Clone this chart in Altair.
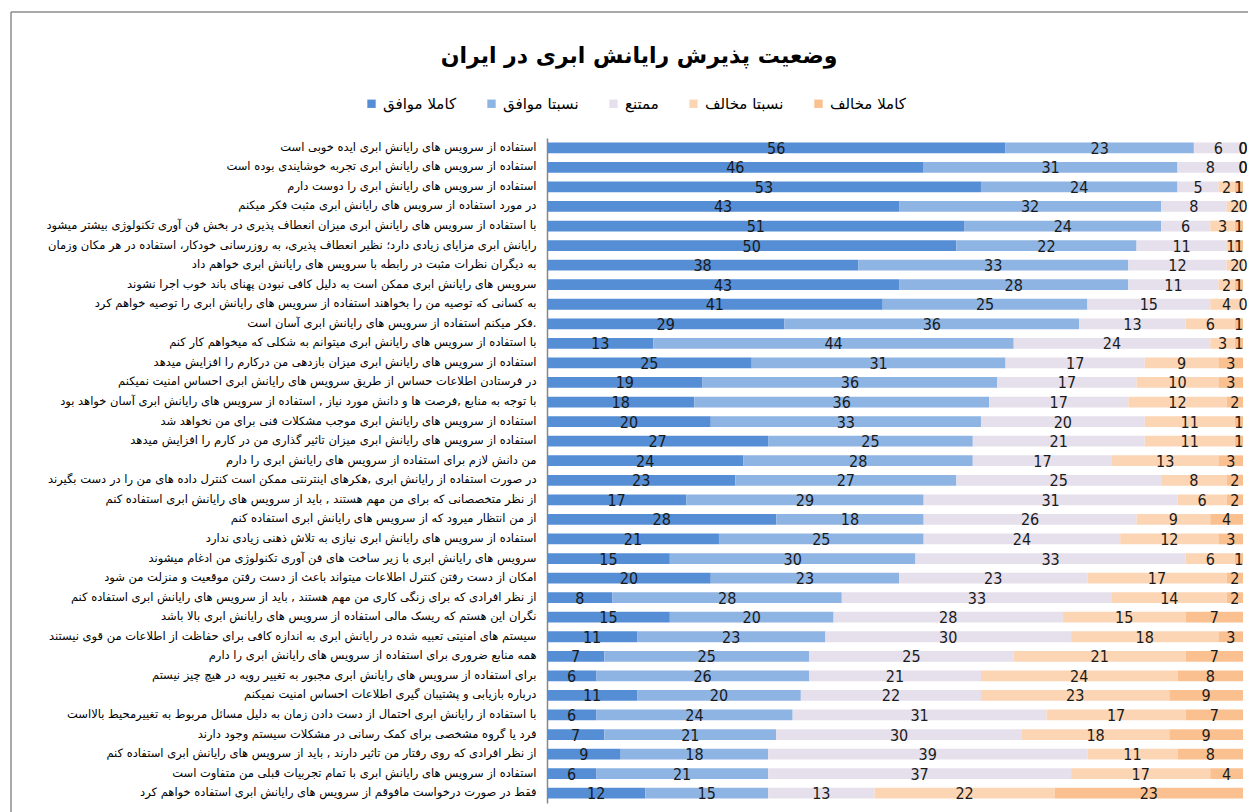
import altair as alt
import pandas as pd

questions = [
    "استفاده از سرویس های رایانش ابری ایده خوبی است",
    "استفاده از سرویس های رایانش ابری تجربه خوشایندی بوده است",
    "استفاده از سرویس های رایانش ابری را دوست دارم",
    "در مورد استفاده از سرویس های رایانش ابری مثبت فکر میکنم",
    "با استفاده از سرویس های رایانش ابری میزان انعطاف پذیری در بخش فن آوری تکنولوژی بیشتر میشود",
    "رایانش ابری مزایای زیادی دارد؛ نظیر انعطاف پذیری، به روزرسانی خودکار، استفاده در هر مکان وزمان",
    "به دیگران نظرات مثبت در رابطه با سرویس های رایانش ابری خواهم داد",
    "سرویس های رایانش ابری ممکن است به دلیل کافی نبودن پهنای باند خوب اجرا نشوند",
    "به کسانی که توصیه من را بخواهند استفاده از سرویس های رایانش ابری را توصیه خواهم کرد",
    "فکر میکنم استفاده از سرویس های رایانش ابری آسان است.",
    "با استفاده از سرویس های رایانش ابری میتوانم به شکلی که میخواهم کار کنم",
    "استفاده از سرویس های رایانش ابری میزان بازدهی من درکارم را افزایش میدهد",
    "در فرستادن اطلاعات حساس از طریق سرویس های رایانش ابری احساس امنیت نمیکنم",
    "با توجه به منابع ,فرصت ها و دانش مورد نیاز , استفاده از سرویس های رایانش ابری آسان خواهد بود",
    "استفاده از سرویس های رایانش ابری موجب مشکلات فنی برای من نخواهد شد",
    "استفاده از سرویس های رایانش ابری میزان تاثیر گذاری من در کارم را افزایش میدهد",
    "من دانش لازم برای استفاده از سرویس های رایانش ابری را دارم",
    "در صورت استفاده از رایانش ابری ,هکرهای اینترنتی ممکن است کنترل داده های من را در دست بگیرند",
    "از نظر متخصصانی که برای من مهم هستند , باید از سرویس های رایانش ابری استفاده کنم",
    "از من انتظار میرود که از سرویس های رایانش ابری استفاده کنم",
    "استفاده از سرویس های رایانش ابری نیازی به تلاش ذهنی زیادی ندارد",
    "سرویس های رایانش ابری با زیر ساخت های فن آوری تکنولوژی من ادغام میشوند",
    "امکان از دست رفتن کنترل اطلاعات میتواند باعث از دست رفتن موقعیت و منزلت من شود",
    "از نظر افرادی که برای زنگی کاری من مهم هستند , باید از سرویس های رایانش ابری استفاده کنم",
    "نگران این هستم که ریسک مالی استفاده از سرویس های رایانش ابری بالا باشد",
    "سیستم های امنیتی تعبیه شده در رایانش ابری به اندازه کافی برای حفاظت از اطلاعات من قوی نیستند",
    "همه منابع ضروری برای استفاده از سرویس های رایانش ابری را دارم",
    "برای استفاده از سرویس های رایانش ابری مجبور به تغییر رویه در هیچ چیز نیستم",
    "درباره بازیابی و پشتیبان گیری اطلاعات احساس امنیت نمیکنم",
    "با استفاده از رایانش ابری احتمال از دست دادن زمان به دلیل مسائل مربوط به تغییرمحیط بالااست",
    "فرد یا گروه مشخصی برای کمک رسانی در مشکلات سیستم وجود دارند",
    "از نظر افرادی که روی رفتار من تاثیر دارند , باید از سرویس های رایانش ابری استفاده کنم",
    "استفاده از سرویس های رایانش ابری با تمام تجربیات قبلی من متفاوت است",
    "فقط در صورت درخواست مافوقم از سرویس های رایانش ابری استفاده خواهم کرد",
]

categories = ["کاملا موافق", "نسبتا موافق", "ممتنع", "نسبتا مخالف", "کاملا مخالف"]
colors = ["#558ED5", "#8EB4E3", "#E6E0EC", "#FCD5B5", "#FAC090"]

kamelan_movafegh = [56, 46, 53, 43, 51, 50, 38, 43, 41, 29, 13, 25, 19, 18, 20, 27, 24,
                    23, 17, 28, 21, 15, 20, 8, 15, 11, 7, 6, 11, 6, 7, 9, 6, 12]
nesbatan_movafegh = [23, 31, 24, 32, 24, 22, 33, 28, 25, 36, 44, 31, 36, 36, 33, 25, 28,
                     27, 29, 18, 25, 30, 23, 28, 20, 23, 25, 26, 20, 24, 21, 18, 21, 15]
momtane = [6, 8, 5, 8, 6, 11, 12, 11, 15, 13, 24, 17, 17, 17, 20, 21, 17,
           25, 31, 26, 24, 33, 23, 33, 28, 30, 25, 21, 22, 31, 30, 39, 37, 13]
nesbatan_mokhalef = [0, 0, 2, 2, 3, 1, 2, 2, 4, 6, 3, 9, 10, 12, 11, 11, 13,
                     8, 6, 9, 12, 6, 17, 14, 15, 18, 21, 24, 23, 17, 18, 11, 17, 22]
kamelan_mokhalef = [0, 0, 1, 0, 1, 1, 0, 1, 0, 1, 1, 3, 3, 2, 1, 1, 3,
                    2, 2, 4, 3, 1, 2, 2, 7, 3, 7, 8, 9, 7, 9, 8, 4, 23]

series = [kamelan_movafegh, nesbatan_movafegh, momtane, nesbatan_mokhalef, kamelan_mokhalef]

rows = []
for i, q in enumerate(questions):
    for j, (c, vals) in enumerate(zip(categories, series)):
        rows.append({"q": q, "cat": c, "order": j, "value": vals[i]})
df = pd.DataFrame(rows)

base = alt.Chart(df).transform_stack(
    stack="value",
    as_=["v0", "v1"],
    groupby=["q"],
    sort=[alt.SortField("order", order="ascending")],
    offset="normalize",
).transform_calculate(mid="(datum.v0 + datum.v1) / 2")

yenc = alt.Y(
    "q:N",
    sort=questions,
    title=None,
    scale=alt.Scale(paddingInner=0.45, paddingOuter=0.225),
    axis=alt.Axis(
        ticks=False,
        domainColor="#868686",
        domainWidth=1.5,
        labelFont="DejaVu Sans",
        labelFontSize=11.5,
        labelColor="#000000",
        labelLimit=600,
        labelPadding=11,
    ),
)

bars = base.mark_bar().encode(
    x=alt.X("v0:Q", axis=None, scale=alt.Scale(domain=[0, 1], nice=False)),
    x2="v1:Q",
    y=yenc,
    color=alt.Color(
        "cat:N",
        scale=alt.Scale(domain=categories, range=colors),
        legend=alt.Legend(
            title=None,
            orient="none",
            direction="horizontal",
            legendX=-183,
            legendY=-42,
            symbolType="square",
            symbolSize=70,
            symbolStrokeWidth=0,
            labelFont="DejaVu Sans",
            labelFontSize=15,
            labelColor="#000000",
            columnPadding=27,
            labelOffset=4,
        ),
    ),
)

labels = base.mark_text(
    font="Liberation Sans Narrow, DejaVu Sans Condensed, sans-serif",
    fontSize=16,
    color="#1a1a1a",
    baseline="middle",
    dy=1,
).encode(
    x=alt.X("mid:Q"),
    y=alt.Y("q:N", sort=questions),
    text="value:Q",
)

frame_df = pd.DataFrame({"k": [0]})
frame_top = alt.Chart(frame_df).mark_rule(color="#8c8c8c", strokeWidth=1.5).encode(
    x=alt.value(-536), x2=alt.value(720), y=alt.value(-126)
)
frame_left = alt.Chart(frame_df).mark_rule(color="#8c8c8c", strokeWidth=1.5).encode(
    x=alt.value(-536), y=alt.value(-126), y2=alt.value(700)
)

chart = alt.layer(bars, labels, frame_top, frame_left).properties(
    width=696,
    height=665,
    autosize="none",
    padding={"left": 547, "top": 138, "right": 5, "bottom": 9},
    title=alt.TitleParams(
        "وضعیت پذیرش رایانش ابری در ایران",
        font="DejaVu Sans",
        fontSize=22,
        fontWeight="bold",
        color="#000000",
        anchor="middle",
        dx=-256,
        offset=-57,
    ),
).configure_view(stroke=None)

chart.save("out.html", embed_options={"renderer": "svg", "actions": False})
